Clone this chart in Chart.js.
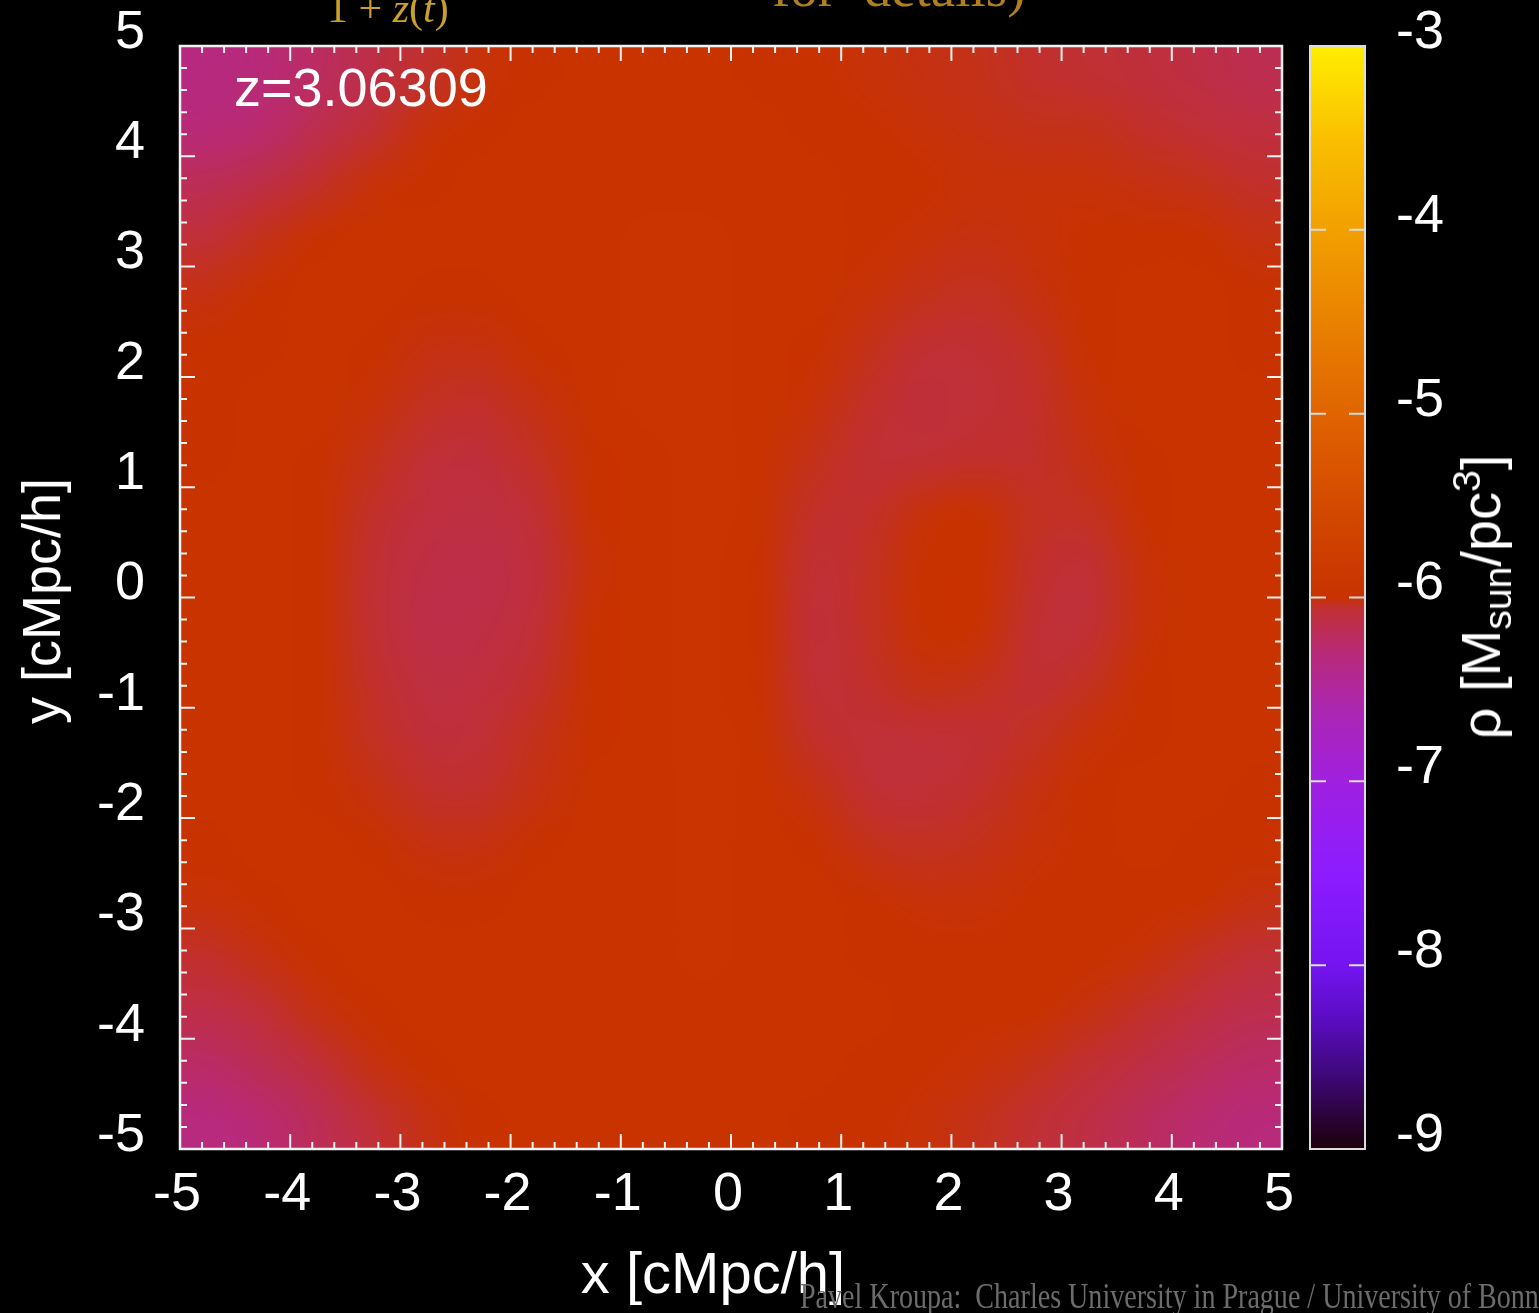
<!DOCTYPE html>
<html>
<head>
<meta charset="utf-8">
<script src="https://cdn.jsdelivr.net/npm/chart.js@4.4.0/dist/chart.umd.min.js"></script>
<style>
  html, body { margin: 0; padding: 0; background: #000; }
  #wrap { position: relative; width: 1539px; height: 1313px; overflow: hidden; background: #000; }
  #chart { position: absolute; left: 0; top: 0; }
  .txt { position: absolute; white-space: pre; line-height: 1; color: #fff;
         font-family: "Liberation Sans", Arial, Helvetica, sans-serif; }
  .serif { font-family: "Liberation Serif", "Times New Roman", serif; }
  .centred { transform: translate(-50%, -50%); }
  .vertical { transform: translate(-50%, -50%) rotate(-90deg); }
  .sub { font-size: 0.7em; position: relative; top: 0.28em; }
  .sup { font-size: 0.7em; position: relative; top: -0.5em; }
</style>
</head>
<body>
<div id="wrap">
  <canvas id="chart" width="1539" height="1313"></canvas>

  <div class="txt serif" style="left:327px; top:-13px; font-size:42px; color:#c8a02a;">1 + <i>z</i>(<i>t</i>)</div>
  <div class="txt serif" style="left:772px; top:-40px; font-size:55px; color:#b08020;">for  details)</div>

  <div class="txt" style="left:234px; top:60px; font-size:54px;">z=3.06309</div>
  <div class="txt centred" style="left:713px; top:1273px; font-size:58px;">x [cMpc/h]</div>
  <div class="txt vertical" style="left:41px; top:601px; font-size:54px;">y [cMpc/h]</div>
  <div class="txt vertical" style="left:1481px; top:597px; font-size:56px;">ρ [M<span class="sub">sun</span>/pc<span class="sup">3</span>]</div>

  <div id="credit" class="txt serif" style="left:800px; top:1278px; font-size:36px; color:#6c6c6c; transform-origin:0 0;">Pavel Kroupa:  Charles University in Prague / University of Bonn</div>
</div>

<script>
// cell centres of the density map (cMpc/h)
const xCenters = [-4.75, -4.25, -3.75, -3.25, -2.75, -2.25, -1.75, -1.25, -0.75, -0.25,
                   0.25,  0.75,  1.25,  1.75,  2.25,  2.75,  3.25,  3.75,  4.25,  4.75];
const yCenters = [ 4.75,  4.25,  3.75,  3.25,  2.75,  2.25,  1.75,  1.25,  0.75,  0.25,
                  -0.25, -0.75, -1.25, -1.75, -2.25, -2.75, -3.25, -3.75, -4.25, -4.75];

// log10 density, one row per yCenter (top to bottom)
const rhoGrid = [
  [-6.34,-6.30,-6.22,-6.12,-6.05,-6.01,-5.99,-5.98,-5.98,-5.98,-5.99,-6.00,-6.01,-6.02,-6.03,-6.05,-6.06,-6.08,-6.12,-6.16],
  [-6.30,-6.26,-6.15,-6.06,-6.01,-5.99,-5.98,-5.97,-5.97,-5.97,-5.98,-5.99,-6.00,-6.01,-6.02,-6.03,-6.03,-6.05,-6.07,-6.10],
  [-6.18,-6.12,-6.05,-6.01,-5.99,-5.98,-5.97,-5.97,-5.97,-5.97,-5.97,-5.98,-5.99,-6.00,-6.01,-6.01,-6.01,-6.02,-6.03,-6.05],
  [-6.07,-6.03,-6.00,-5.98,-5.98,-5.98,-5.97,-5.97,-5.96,-5.96,-5.97,-5.98,-5.99,-6.01,-6.02,-6.01,-5.99,-5.99,-6.00,-6.02],
  [-6.02,-6.00,-5.98,-5.98,-5.99,-5.99,-5.98,-5.97,-5.96,-5.96,-5.97,-5.98,-6.01,-6.03,-6.04,-6.02,-5.99,-5.98,-5.98,-6.00],
  [-6.00,-5.99,-5.98,-5.99,-6.02,-6.02,-6.00,-5.97,-5.96,-5.96,-5.97,-5.99,-6.03,-6.06,-6.06,-6.04,-6.00,-5.98,-5.98,-5.99],
  [-5.99,-5.98,-5.98,-6.01,-6.04,-6.05,-6.02,-5.98,-5.96,-5.96,-5.97,-6.01,-6.05,-6.08,-6.07,-6.05,-6.01,-5.98,-5.97,-5.98],
  [-5.99,-5.98,-5.99,-6.03,-6.07,-6.08,-6.04,-5.99,-5.97,-5.96,-5.98,-6.03,-6.06,-6.06,-6.05,-6.05,-6.02,-5.99,-5.97,-5.98],
  [-5.98,-5.98,-6.00,-6.05,-6.10,-6.11,-6.06,-6.00,-5.97,-5.96,-5.98,-6.05,-6.05,-6.01,-6.00,-6.04,-6.04,-6.00,-5.98,-5.98],
  [-5.98,-5.98,-6.00,-6.06,-6.12,-6.13,-6.08,-6.01,-5.97,-5.96,-5.99,-6.07,-6.04,-6.00,-5.99,-6.05,-6.07,-6.01,-5.98,-5.98],
  [-5.98,-5.98,-6.00,-6.06,-6.13,-6.12,-6.07,-6.00,-5.97,-5.96,-5.99,-6.08,-6.04,-6.00,-6.00,-6.06,-6.07,-6.01,-5.98,-5.98],
  [-5.98,-5.98,-6.00,-6.05,-6.11,-6.10,-6.05,-5.99,-5.97,-5.96,-5.99,-6.07,-6.05,-6.02,-6.03,-6.06,-6.04,-6.00,-5.98,-5.98],
  [-5.98,-5.98,-5.99,-6.04,-6.08,-6.07,-6.03,-5.99,-5.97,-5.96,-5.98,-6.05,-6.07,-6.07,-6.06,-6.04,-6.01,-5.99,-5.98,-5.98],
  [-5.98,-5.98,-5.99,-6.02,-6.05,-6.05,-6.02,-5.98,-5.97,-5.96,-5.97,-6.02,-6.06,-6.07,-6.05,-6.02,-5.99,-5.98,-5.98,-5.99],
  [-5.99,-5.98,-5.98,-6.00,-6.02,-6.02,-6.00,-5.98,-5.97,-5.96,-5.97,-6.00,-6.03,-6.04,-6.03,-6.01,-5.99,-5.98,-5.99,-6.00],
  [-6.01,-5.99,-5.98,-5.98,-5.99,-5.99,-5.98,-5.97,-5.97,-5.96,-5.97,-5.98,-6.00,-6.01,-6.01,-6.00,-5.99,-5.99,-6.00,-6.02],
  [-6.05,-6.02,-5.99,-5.98,-5.98,-5.98,-5.97,-5.97,-5.97,-5.96,-5.97,-5.98,-5.99,-5.99,-5.99,-5.99,-5.99,-6.01,-6.04,-6.07],
  [-6.13,-6.07,-6.02,-5.99,-5.98,-5.97,-5.97,-5.97,-5.97,-5.97,-5.97,-5.98,-5.98,-5.99,-5.99,-6.00,-6.02,-6.05,-6.10,-6.15],
  [-6.24,-6.17,-6.08,-6.02,-5.99,-5.98,-5.98,-5.97,-5.97,-5.97,-5.97,-5.98,-5.99,-6.00,-6.01,-6.03,-6.06,-6.12,-6.19,-6.24],
  [-6.33,-6.28,-6.18,-6.07,-6.02,-5.99,-5.98,-5.98,-5.97,-5.97,-5.98,-5.99,-6.00,-6.01,-6.03,-6.06,-6.12,-6.20,-6.27,-6.31]
];

const axisRange = [-5, 5];
const xTickValues = [-5, -4, -3, -2, -1, 0, 1, 2, 3, 4, 5];
const xTickLabels = ['-5', '-4', '-3', '-2', '-1', '0', '1', '2', '3', '4', '5'];
const yTickValues = [-5, -4, -3, -2, -1, 0, 1, 2, 3, 4, 5];
const yTickLabels = ['-5', '-4', '-3', '-2', '-1', '0', '1', '2', '3', '4', '5'];

const cbRange = [-9, -3];
const cbTickValues = [-9, -8, -7, -6, -5, -4, -3];
const cbTickLabels = ['-9', '-8', '-7', '-6', '-5', '-4', '-3'];

// colour palette of the density scale (value, colour)
const palette = [
  [-9.0, '#1c0008'], [-8.6, '#3e0878'], [-8.3, '#5a0cc0'], [-8.0, '#7414f0'],
  [-7.5, '#8c1cff'], [-7.0, '#a020e0'], [-6.6, '#ac26b0'], [-6.3, '#b82a78'],
  [-6.06, '#c03034'], [-6.0, '#c83200'], [-5.5, '#d44a00'], [-5.0, '#e06400'],
  [-4.5, '#ea8200'], [-4.0, '#f2a000'], [-3.5, '#fac000'], [-3.0, '#ffee00']
];

const FONT = '"Liberation Sans", Arial, Helvetica, sans-serif';

const hexToRgb = h => [1, 3, 5].map(i => parseInt(h.substr(i, 2), 16));

const colourFor = v => {
  if (v <= palette[0][0]) return hexToRgb(palette[0][1]);
  for (let i = 1; i < palette.length; i++) {
    const [v1, c1] = palette[i];
    if (v <= v1) {
      const [v0, c0] = palette[i - 1];
      const t = (v - v0) / (v1 - v0);
      const a = hexToRgb(c0), b = hexToRgb(c1);
      return a.map((c, k) => Math.round(c + (b[k] - c) * t));
    }
  }
  return hexToRgb(palette[palette.length - 1][1]);
};

const cells = [];
rhoGrid.forEach((row, r) => row.forEach((v, c) => {
  cells.push({ x: xCenters[c], y: yCenters[r], v: v, row: r, col: c });
}));

// density map, smoothed between cell centres
const heatmapPlugin = {
  id: 'heatmap',
  beforeDatasetsDraw(chart) {
    const { ctx, scales } = chart;
    const off = document.createElement('canvas');
    off.width = xCenters.length;
    off.height = yCenters.length;
    const octx = off.getContext('2d');
    const img = octx.createImageData(off.width, off.height);
    chart.data.datasets[0].data.forEach(c => {
      const rgb = colourFor(c.v);
      const k = (c.row * off.width + c.col) * 4;
      img.data[k] = rgb[0]; img.data[k + 1] = rgb[1]; img.data[k + 2] = rgb[2]; img.data[k + 3] = 255;
    });
    octx.putImageData(img, 0, 0);
    const left = scales.x.getPixelForValue(axisRange[0]);
    const right = scales.x.getPixelForValue(axisRange[1]);
    const top = scales.y.getPixelForValue(axisRange[1]);
    const bottom = scales.y.getPixelForValue(axisRange[0]);
    ctx.save();
    ctx.imageSmoothingEnabled = true;
    ctx.imageSmoothingQuality = 'high';
    ctx.drawImage(off, left, top, right - left, bottom - top);
    ctx.restore();
  }
};

// frame with inward ticks, and the colour bar
const framePlugin = {
  id: 'frame',
  afterDraw(chart) {
    const { ctx, chartArea: a, scales } = chart;
    ctx.save();
    ctx.strokeStyle = '#f2f2f2';
    ctx.lineWidth = 2;
    ctx.beginPath();
    for (let i = 0; i <= 50; i++) {
      const v = axisRange[0] + i * 0.2;
      const len = i % 5 === 0 ? 15 : 7;
      const px = scales.x.getPixelForValue(v);
      const py = scales.y.getPixelForValue(v);
      ctx.moveTo(px, a.bottom); ctx.lineTo(px, a.bottom - len);
      ctx.moveTo(px, a.top); ctx.lineTo(px, a.top + len);
      ctx.moveTo(a.left, py); ctx.lineTo(a.left + len, py);
      ctx.moveTo(a.right, py); ctx.lineTo(a.right - len, py);
    }
    ctx.stroke();
    ctx.lineWidth = 2.5;
    ctx.strokeRect(a.left, a.top, a.right - a.left, a.bottom - a.top);

    const cb = scales.cb;
    const cTop = cb.getPixelForValue(cbRange[1]);
    const cBottom = cb.getPixelForValue(cbRange[0]);
    const cLeft = cb.left + 28, cW = 55;
    const grad = ctx.createLinearGradient(0, cBottom, 0, cTop);
    palette.forEach(([v, col]) => grad.addColorStop((v - cbRange[0]) / (cbRange[1] - cbRange[0]), col));
    ctx.fillStyle = grad;
    ctx.fillRect(cLeft, cTop, cW, cBottom - cTop);
    ctx.strokeStyle = '#dcdcdc';
    ctx.lineWidth = 2;
    ctx.beginPath();
    cbTickValues.forEach(v => {
      const py = cb.getPixelForValue(v);
      ctx.moveTo(cLeft, py); ctx.lineTo(cLeft + 16, py);
      ctx.moveTo(cLeft + cW, py); ctx.lineTo(cLeft + cW - 16, py);
    });
    ctx.stroke();
    ctx.strokeRect(cLeft, cTop, cW, cBottom - cTop);
    ctx.restore();
  }
};

const tickFont = { family: FONT, size: 54, lineHeight: 1 };

// vertical axes: fixed width, and no extra room reserved above/below for labels
const fixVertical = width => s => {
  s.width = width;
  s.paddingTop = 0;
  s.paddingBottom = 0;
};

new Chart(document.getElementById('chart'), {
  type: 'scatter',
  data: {
    datasets: [{
      label: 'rho',
      data: cells,
      pointRadius: 0,
      pointHoverRadius: 0
    }]
  },
  options: {
    responsive: false,
    animation: false,
    events: [],
    layout: { padding: { top: 46, left: 0, right: 0, bottom: 0 } },
    plugins: { legend: { display: false }, tooltip: { enabled: false } },
    scales: {
      x: {
        type: 'linear', position: 'bottom', min: axisRange[0], max: axisRange[1],
        grid: { display: false, drawTicks: false }, border: { display: false },
        afterBuildTicks: s => { s.ticks = xTickValues.map(v => ({ value: v })); },
        afterFit: s => { s.height = 164; },
        ticks: {
          color: '#fff', font: tickFont, padding: 19, labelOffset: -3,
          maxRotation: 0, minRotation: 0, autoSkip: false,
          callback: (v, i) => xTickLabels[i]
        }
      },
      y: {
        type: 'linear', position: 'left', min: axisRange[0], max: axisRange[1],
        grid: { display: false, drawTicks: false }, border: { display: false },
        afterBuildTicks: s => { s.ticks = yTickValues.map(v => ({ value: v })); },
        afterFit: fixVertical(180),
        ticks: {
          color: '#fff', font: tickFont, padding: 35, labelOffset: -13,
          autoSkip: false, callback: (v, i) => yTickLabels[i]
        }
      },
      cb: {
        type: 'linear', position: 'right', min: cbRange[0], max: cbRange[1],
        grid: { display: false, drawTicks: false }, border: { display: false },
        afterBuildTicks: s => { s.ticks = cbTickValues.map(v => ({ value: v })); },
        afterFit: fixVertical(257),
        ticks: {
          color: '#fff', font: tickFont, padding: 114, labelOffset: -13,
          autoSkip: false, callback: (v, i) => cbTickLabels[i]
        }
      }
    }
  },
  plugins: [heatmapPlugin, framePlugin]
});

// squeeze the credit line so that it ends at the right edge, as in the frame
const credit = document.getElementById('credit');
credit.style.transform = 'scaleX(' + (739 / credit.offsetWidth) + ')';
</script>
</body>
</html>
